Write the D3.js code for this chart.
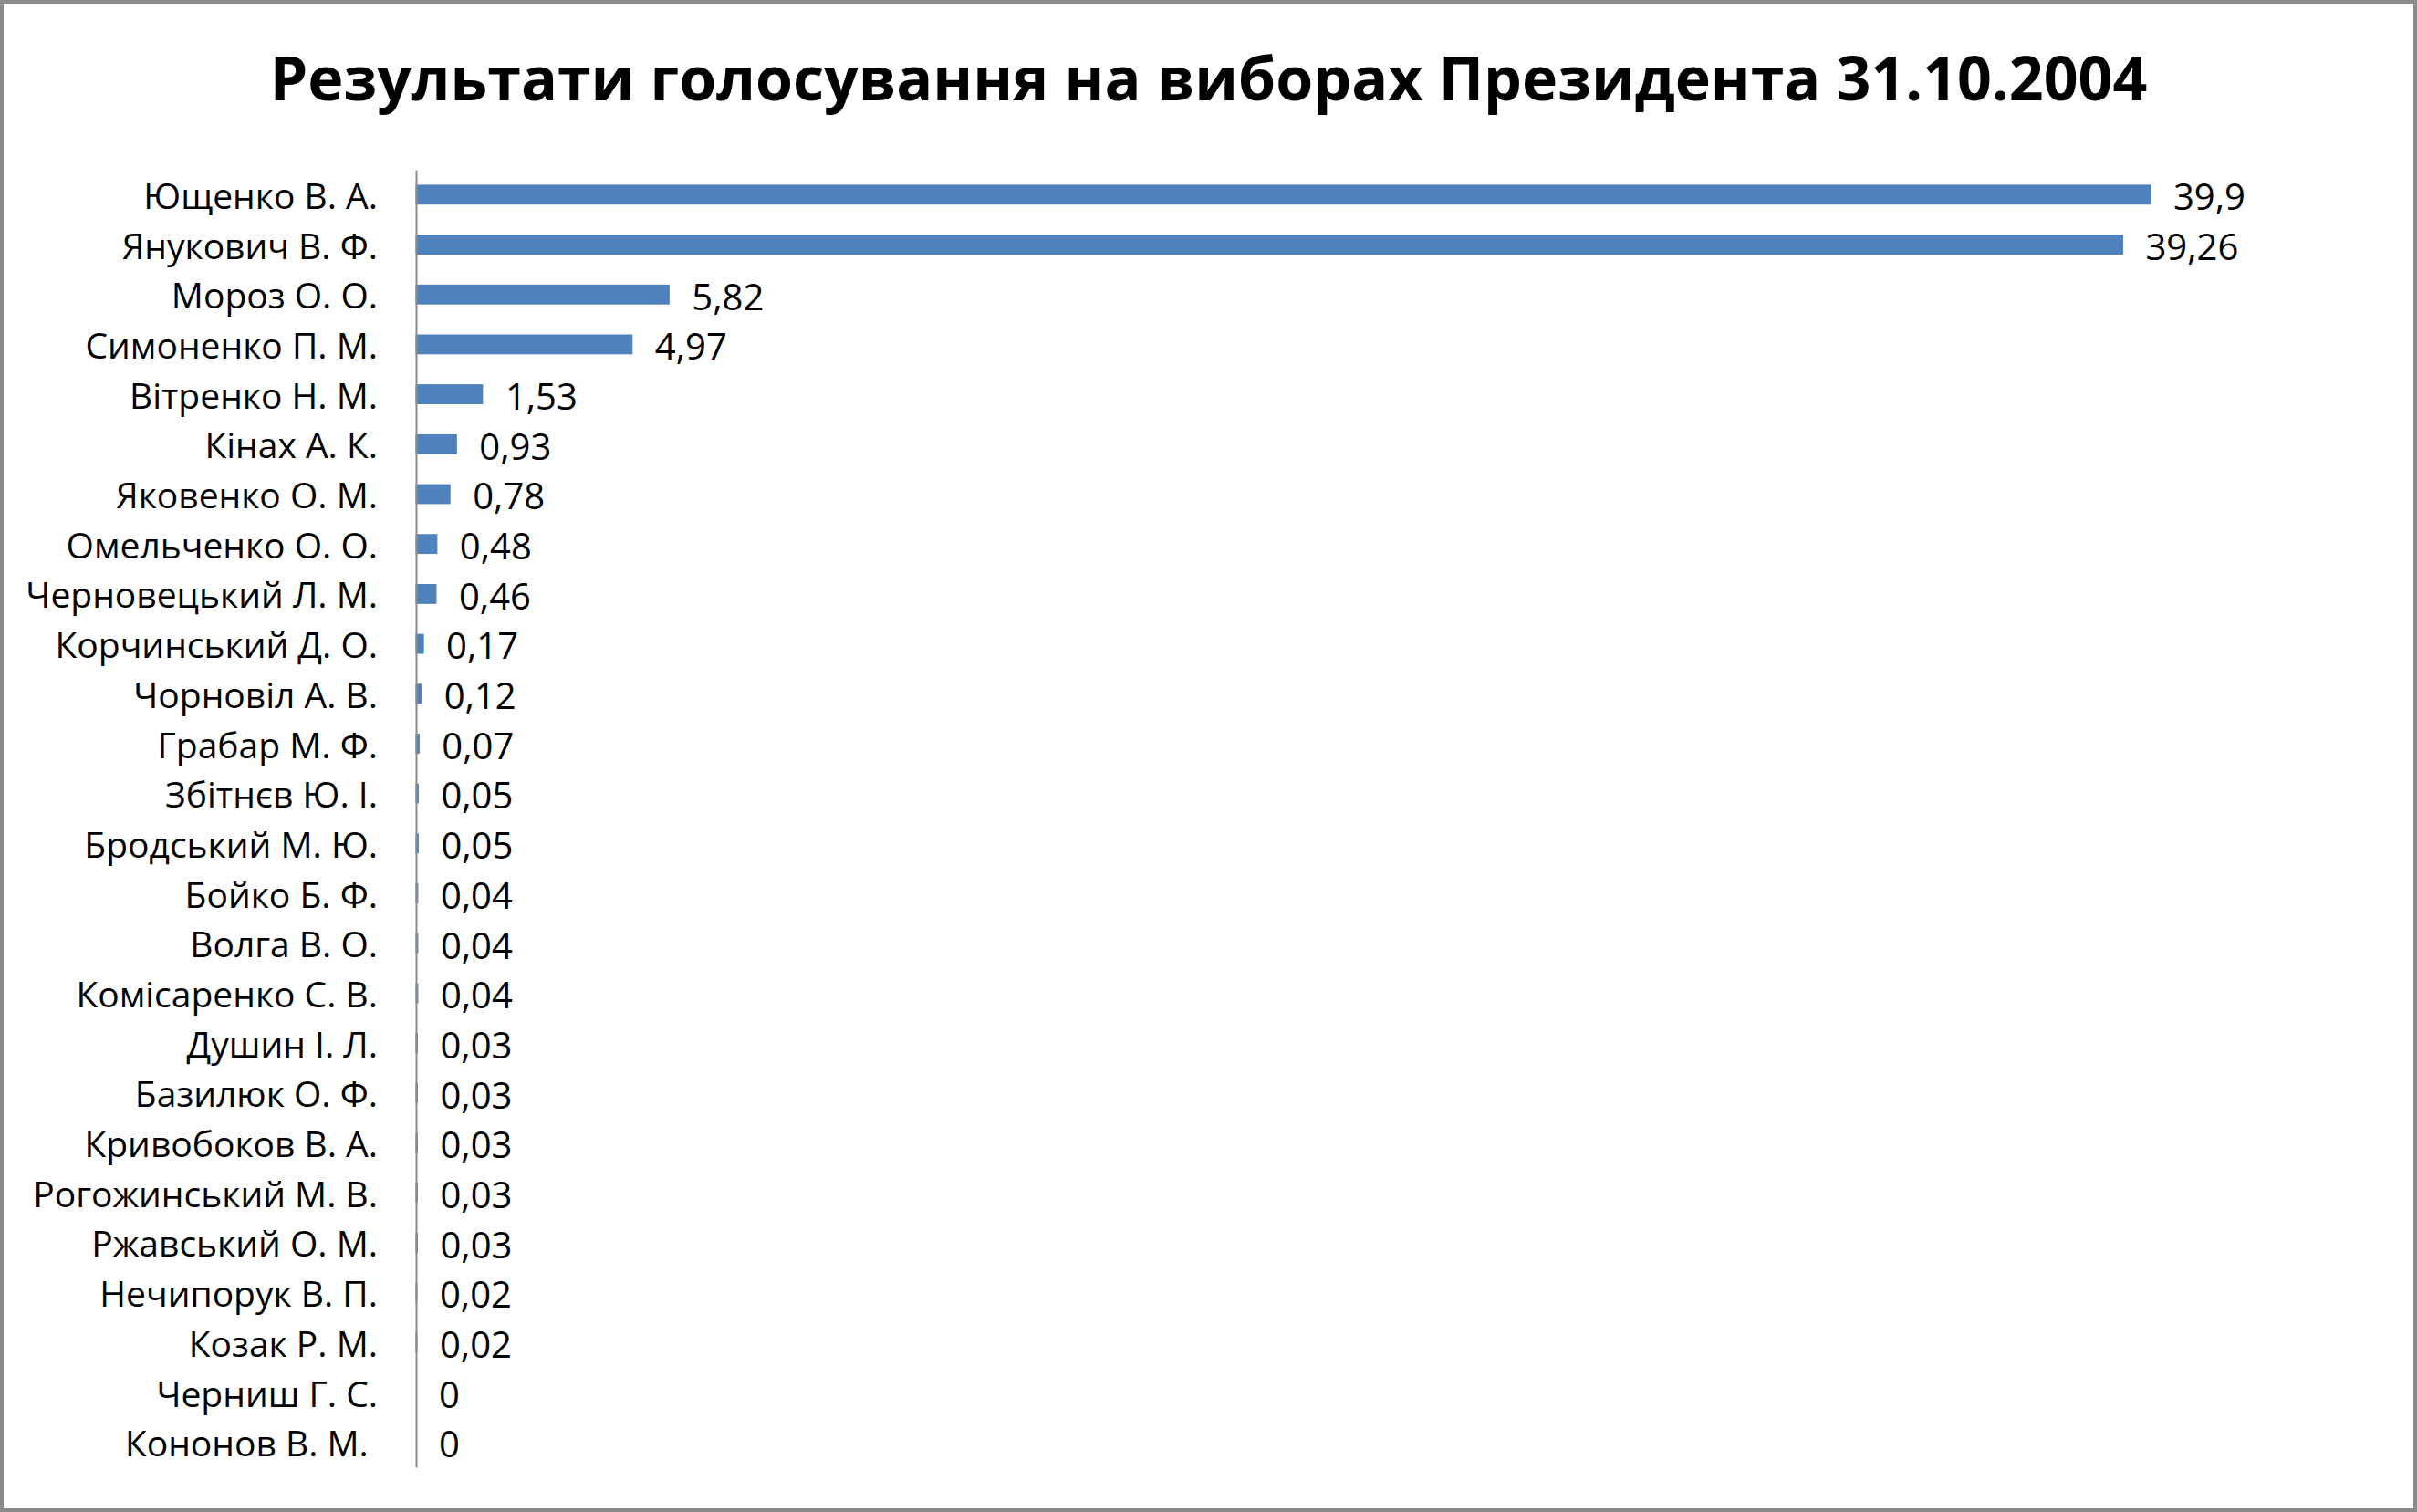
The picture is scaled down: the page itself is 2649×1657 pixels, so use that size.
<!DOCTYPE html>
<html>
<head>
<meta charset="utf-8">
<script src="https://cdn.jsdelivr.net/npm/d3@7"></script>
<style>
  html, body { margin: 0; padding: 0; background: #fff; }
  svg { display: block; }
</style>
</head>
<body>
<svg id="chart" width="2649" height="1657"></svg>
<script>
const title = "Результати голосування на виборах Президента 31.10.2004";
const candidates = ["Ющенко В. А.", "Янукович В. Ф.", "Мороз О. О.", "Симоненко П. М.", "Вітренко Н. М.", "Кінах А. К.", "Яковенко О. М.", "Омельченко О. О.", "Черновецький Л. М.", "Корчинський Д. О.", "Чорновіл А. В.", "Грабар М. Ф.", "Збітнєв Ю. І.", "Бродський М. Ю.", "Бойко Б. Ф.", "Волга В. О.", "Комісаренко С. В.", "Душин І. Л.", "Базилюк О. Ф.", "Кривобоков В. А.", "Рогожинський М. В.", "Ржавський О. М.", "Нечипорук В. П.", "Козак Р. М.", "Черниш Г. С.", "Кононов В. М.\u00A0"];
const percents = [39.9, 39.26, 5.82, 4.97, 1.53, 0.93, 0.78, 0.48, 0.46, 0.17, 0.12, 0.07, 0.05, 0.05, 0.04, 0.04, 0.04, 0.03, 0.03, 0.03, 0.03, 0.03, 0.02, 0.02, 0, 0];

const W = 2649, H = 1657;
const font = "'Open Sans', 'Noto Sans', 'DejaVu Sans', sans-serif";
const svg = d3.select("#chart");

svg.append("rect")
  .attr("x", 2).attr("y", 2)
  .attr("width", W - 4).attr("height", H - 4)
  .attr("fill", "#fff")
  .attr("stroke", "#8a8a8a")
  .attr("stroke-width", 4);

const ttl = svg.append("text")
  .attr("x", W / 2).attr("y", 110)
  .attr("text-anchor", "middle")
  .attr("font-family", font)
  .attr("font-weight", 700)
  .attr("font-size", 64)
  .attr("fill", "#000")
  .text(title);
const tw = ttl.node().getComputedTextLength();
ttl.attr("font-size", 64 * 2058 / tw);

const x = d3.scaleLinear().domain([0, 39.9]).range([456, 2357]);
const y = d3.scaleBand().domain(candidates).range([186, 1608])
  .paddingInner(0.62).paddingOuter(0.31);

const locale = d3.formatLocale({ decimal: ",", thousands: " ", grouping: [3], currency: ["", ""] });
const fmt = locale.format("~f");

const data = candidates.map((c, i) => ({ name: c, value: percents[i] }));

svg.append("g").selectAll("rect").data(data).join("rect")
  .attr("x", x(0))
  .attr("y", d => y(d.name))
  .attr("width", d => x(d.value) - x(0))
  .attr("height", y.bandwidth())
  .attr("fill", "#4f81bd")
  .attr("stroke", "#4a7ebb")
  .attr("stroke-width", d => d.value > 0 ? 1 : 0);

const axis = svg.append("g")
  .attr("transform", `translate(${x(0)},0)`)
  .call(d3.axisLeft(y).tickSize(0).tickPadding(42));
axis.select(".domain").attr("stroke", "#8c8c8c").attr("stroke-width", 2);
axis.selectAll("text")
  .attr("font-family", font)
  .attr("font-size", 39)
  .attr("dy", "0.4em")
  .attr("fill", "#000")
  .style("white-space", "pre");

svg.append("g").selectAll("text").data(data).join("text")
  .attr("x", d => x(d.value) + 25)
  .attr("y", d => y(d.name) + y.bandwidth() / 2)
  .attr("dy", "0.42em")
  .attr("font-family", font)
  .attr("font-size", 40)
  .attr("fill", "#000")
  .text(d => fmt(d.value));
</script>
</body>
</html>
